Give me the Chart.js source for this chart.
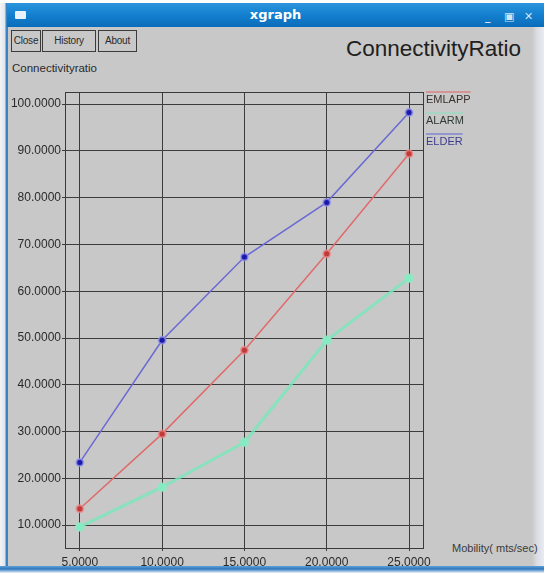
<!DOCTYPE html>
<html>
<head>
<meta charset="utf-8">
<script src="https://cdn.jsdelivr.net/npm/chart.js@4/dist/chart.umd.min.js"></script>
<style>
  html, body { margin: 0; padding: 0; }
  body { width: 544px; height: 573px; position: relative; overflow: hidden; background: #ffffff;
         font-family: "Liberation Sans", Arial, sans-serif; }
  #win { position: absolute; left: 0; top: 3px; width: 544px; height: 570px; background: #c8c8c8; }
  #leftEdge { position: absolute; left: 0; top: 3px; width: 8px; height: 570px;
              background: linear-gradient(to right, #f4f4f4 0, #dfe6ee 5px, #3b83c4 6px, #3b83c4 8px); }
  #rightEdge { position: absolute; right: 0; top: 3px; width: 12px; height: 570px;
               background: linear-gradient(to right, #c8c8c8 0, #dcdce4 5px, #e8ecf2 12px); }
  #bottomEdge { position: absolute; left: 0; top: 566px; width: 544px; height: 7px;
                background: linear-gradient(to bottom, #5f9fd4 0, #2f78c0 3px, #eef3f8 7px); }
  #titlebar { position: absolute; left: 7px; top: 3px; width: 537px; height: 24px;
              background: linear-gradient(to bottom, #2b95dc 0, #137fcf 50%, #0b6db8 100%); }
  #titlebar .name { position: absolute; left: 0; width: 100%; top: 4px; text-align: center;
                    color: #ffffff; font-weight: bold; font-size: 13px; font-family: "DejaVu Sans", sans-serif; }
  #titlebar .icon { position: absolute; left: 8px; top: 8px; width: 11px; height: 8px; background: #e8f2fb; border-radius: 1px; }
  #titlebar .ctl { position: absolute; top: 7px; color: #cfe6f7; font-size: 11px; font-weight: bold; font-family: "DejaVu Sans", sans-serif; }
  .btn { position: absolute; top: 30px; height: 22px; border: 1px solid #3c3c3c; box-sizing: border-box;
         font-size: 10px; line-height: 20px; text-align: center; color: #2a2a2a; letter-spacing: -0.2px; }
  #plotTitle { position: absolute; left: 346px; top: 36px; font-size: 22.5px; color: #202020; }
  #yTitle { position: absolute; left: 12px; top: 62px; font-size: 11.5px; color: #2a2a2a; }
  #xTitle { position: absolute; left: 452px; top: 542px; font-size: 11px; color: #3a3a3a; white-space: nowrap; }
  #chartBox { position: absolute; left: 0; top: 0; width: 544px; height: 573px; }
</style>
</head>
<body>
<div id="win"></div>
<div id="rightEdge"></div>
<div id="leftEdge"></div>
<div id="bottomEdge"></div>
<div id="titlebar">
  <div class="icon"></div>
  <div class="name">xgraph</div>
  <div class="ctl" style="left:478px">_</div>
  <div class="ctl" style="left:497px">&#9635;</div>
  <div class="ctl" style="left:517px">&#10005;</div>
</div>
<div class="btn" style="left:11px;width:30px">Close</div>
<div class="btn" style="left:42px;width:54px">History</div>
<div class="btn" style="left:98px;width:39px">About</div>
<div id="plotTitle">ConnectivityRatio</div>
<div id="yTitle">Connectivityratio</div>
<div id="xTitle">Mobility( mts/sec)</div>
<div id="chartBox"><canvas id="c" width="544" height="573"></canvas></div>

<script>
// Mobility values (x) and connectivity ratio for each scheme
const mobility = [5, 10, 15, 20, 25];
const emlapp   = [13.5, 29.5, 47.4, 68.0, 89.4];
const alarm    = [9.6, 18.1, 27.7, 49.5, 62.8];
const elder    = [23.4, 49.5, 67.3, 79.0, 98.2];
const xTicks   = [5, 10, 15, 20, 25];
const yTicks   = [10, 20, 30, 40, 50, 60, 70, 80, 90, 100];
const seriesNames = ['EMLAPP', 'ALARM', 'ELDER'];

const toPoints = ys => mobility.map((x, i) => ({ x: x, y: ys[i] }));

// frame around the plotting area
const framePlugin = {
  id: 'frame',
  afterDraw(chart) {
    const { ctx, chartArea: a } = chart;
    ctx.save();
    ctx.strokeStyle = '#3a3a3a';
    ctx.lineWidth = 1;
    ctx.strokeRect(Math.round(a.left) + 0.5, Math.round(a.top) + 0.5,
                   Math.round(a.right - a.left), Math.round(a.bottom - a.top));
    ctx.restore();
  }
};

// xgraph-style key: faint coloured stroke above each series name, right of the plot
const keyPlugin = {
  id: 'key',
  afterDraw(chart) {
    const { ctx, chartArea: a } = chart;
    const textColors = ['#3a3030', '#303a34', '#3c3c8c'];
    ctx.save();
    ctx.font = '11px "Liberation Sans", Arial, sans-serif';
    ctx.textBaseline = 'middle';
    chart.data.datasets.forEach((ds, i) => {
      const y = a.top + 8 + i * 21;
      const x = a.right + 3;
      const w = ctx.measureText(ds.label).width;
      ctx.globalAlpha = 0.55;
      ctx.strokeStyle = ds.borderColor;
      ctx.lineWidth = 2;
      ctx.beginPath();
      ctx.moveTo(x, y - 8);
      ctx.lineTo(x + w, y - 8);
      ctx.stroke();
      ctx.globalAlpha = 1;
      ctx.fillStyle = textColors[i];
      ctx.fillText(ds.label, x, y);
    });
    ctx.restore();
  }
};

new Chart(document.getElementById('c'), {
  type: 'line',
  data: {
    datasets: [
      { label: seriesNames[0], data: toPoints(emlapp), borderColor: '#e06a6a', borderWidth: 1.5,
        pointBackgroundColor: '#c03a3a', pointBorderColor: 'rgba(240,140,140,0.7)', pointBorderWidth: 2, pointRadius: 3.5 },
      { label: seriesNames[1], data: toPoints(alarm), borderColor: 'rgba(120,232,188,0.8)', borderWidth: 3,
        pointBackgroundColor: '#86eac2', pointBorderColor: 'rgba(140,236,196,0.55)', pointBorderWidth: 2, pointRadius: 4 },
      { label: seriesNames[2], data: toPoints(elder), borderColor: '#6a6ad4', borderWidth: 1.5,
        pointBackgroundColor: '#1a1aa8', pointBorderColor: 'rgba(150,150,240,0.7)', pointBorderWidth: 2, pointRadius: 3.5 }
    ]
  },
  options: {
    responsive: false,
    animation: false,
    layout: { padding: { left: 0, top: 92, right: 121, bottom: 0 } },
    plugins: { legend: { display: false }, tooltip: { enabled: false }, title: { display: false } },
    scales: {
      x: {
        type: 'linear', min: 4.1, max: 25.85,
        afterBuildTicks: s => { s.ticks = xTicks.map(v => ({ value: v })); },
        afterFit: s => { s.height = 25; },
        grid: { color: '#3c3c3c', lineWidth: 1, tickLength: 3, drawTicks: true },
        border: { display: false },
        ticks: { color: '#2a2a2a', font: { family: '"Liberation Sans", Arial, sans-serif', size: 12 },
                 padding: 4, maxRotation: 0, autoSkip: false,
                 callback: v => Number(v).toFixed(4) }
      },
      y: {
        type: 'linear', min: 5.1, max: 102.6,
        afterBuildTicks: s => { s.ticks = yTicks.map(v => ({ value: v })); },
        afterFit: s => { s.width = 65; },
        grid: { color: '#3c3c3c', lineWidth: 1, tickLength: 3, drawTicks: true },
        border: { display: false },
        ticks: { color: '#2a2a2a', font: { family: '"Liberation Sans", Arial, sans-serif', size: 12 },
                 padding: 1, autoSkip: false,
                 callback: v => Number(v).toFixed(4) }
      }
    }
  },
  plugins: [framePlugin, keyPlugin]
});
</script>
</body>
</html>
